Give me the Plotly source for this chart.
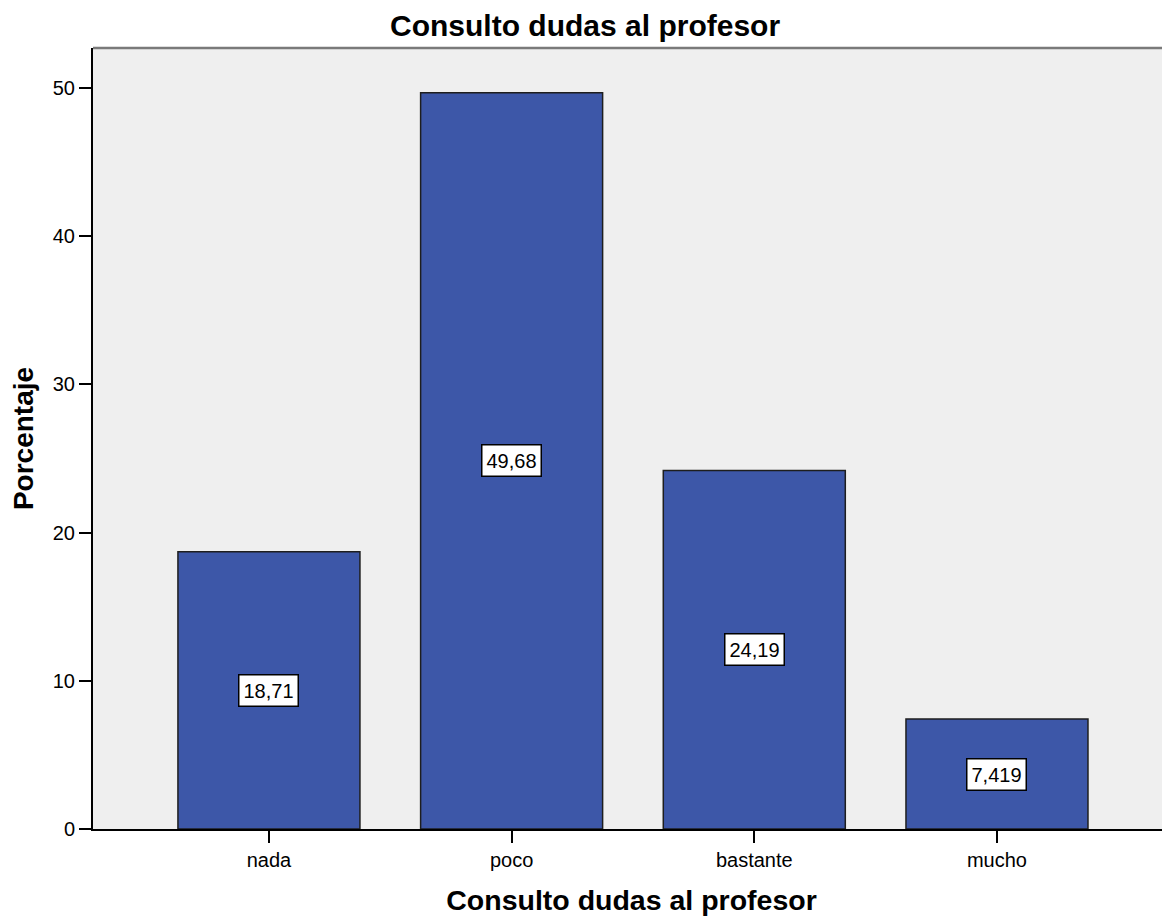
import plotly.graph_objects as go

# Consulto dudas al profesor - porcentajes
categorias = ['nada', 'poco', 'bastante', 'mucho']
porcentajes = [18.71, 49.68, 24.19, 7.419]
etiquetas = ['18,71', '49,68', '24,19', '7,419']

FONT = 'Liberation Sans, Arial, sans-serif'

fig = go.Figure(go.Bar(
    x=categorias, y=porcentajes, width=0.75,
    marker=dict(color='#3d57a8', line=dict(color='#1e1e1e', width=1.5)),
    showlegend=False
))

# value labels in boxes at mid-height of each bar
for c, v, t in zip(categorias, porcentajes, etiquetas):
    fig.add_annotation(
        x=c, y=v / 2, text=t, showarrow=False,
        font=dict(family=FONT, size=20, color='black'),
        bgcolor='white', bordercolor='black', borderwidth=1.5, borderpad=4
    )

# gray top frame line
fig.add_shape(type='line', xref='paper', yref='paper', x0=0, x1=1, y0=1, y1=1,
              line=dict(color='#7a7a7a', width=2.5))

# page body has an 8px margin, so the figure is sized to fit the window
fig.update_layout(
    width=1162, height=910,
    margin=dict(l=85, r=0, t=40, b=89),
    paper_bgcolor='white', plot_bgcolor='#efefef',
    font=dict(family=FONT, size=20, color='black'),
    title=dict(text='<b>Consulto dudas al profesor</b>', x=0.4966, xanchor='center',
               y=0.981, yanchor='middle', font=dict(size=30)),
    bargap=0.25,
)
fig.update_xaxes(
    range=[-0.725, 3.713], showgrid=False, showline=True, linecolor='black', linewidth=2,
    ticks='outside', ticklen=12, tickwidth=2, tickcolor='black',
    title=dict(text='<b>Consulto dudas al profesor</b>', font=dict(size=28.5), standoff=20),
    tickfont=dict(size=20)
)
fig.update_yaxes(
    range=[0, 52.7], showgrid=False, zeroline=False, showline=True, linecolor='black', linewidth=2,
    ticks='outside', ticklen=12, tickwidth=2, tickcolor='black', tickvals=[0, 10, 20, 30, 40, 50],
    title=dict(text='<b>Porcentaje</b>', font=dict(size=28), standoff=14),
    tickfont=dict(size=20)
)

fig.write_html('out.html')
